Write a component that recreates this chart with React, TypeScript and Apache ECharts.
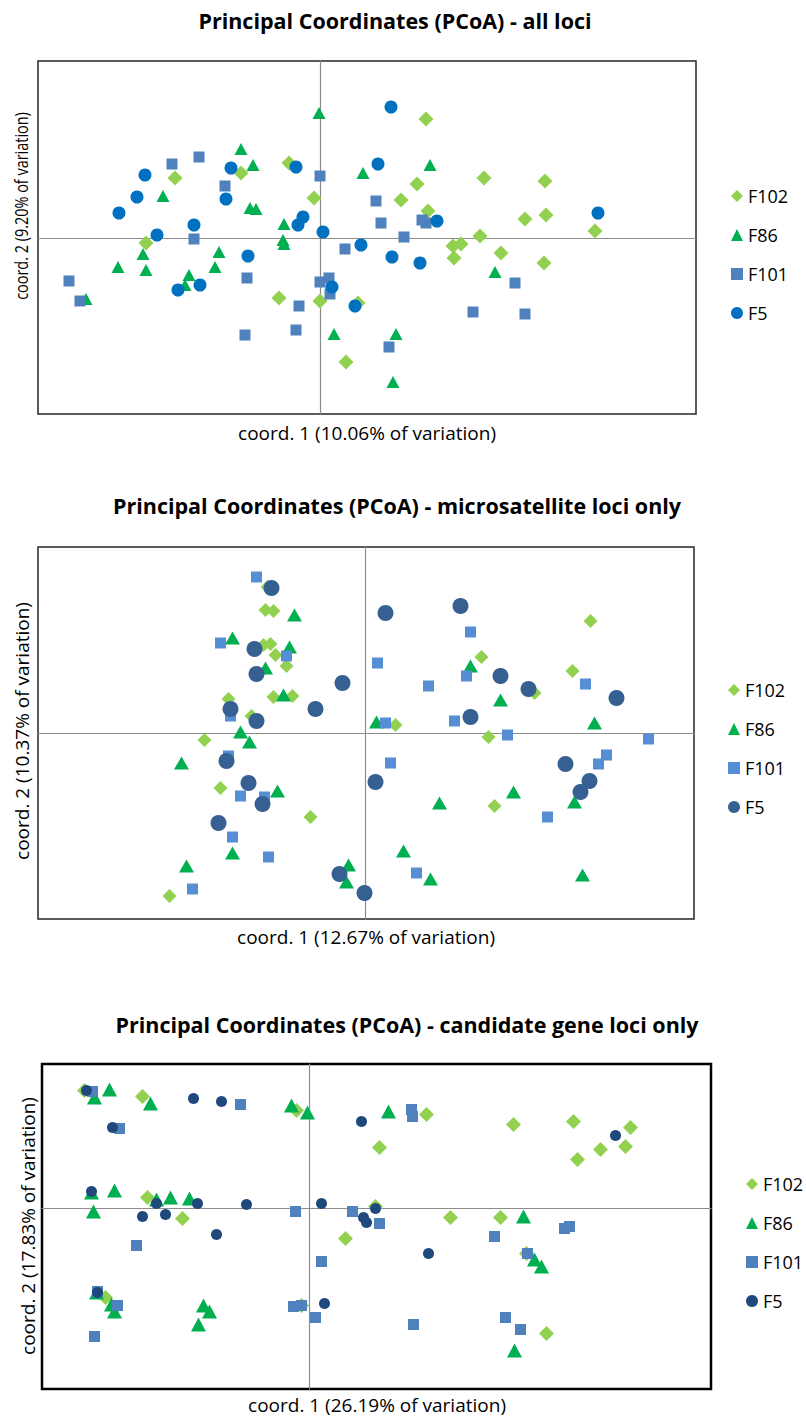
import React, { useEffect, useRef } from "react";
import * as echarts from "echarts";

const FONT = "'Open Sans', Lato, sans-serif";

const groupNames = ["F102", "F86", "F101", "F5"];
const symbols = ["diamond", "triangle", "rect", "circle"];

// ---------- Panel 1: all loci ----------
const p1Title = "Principal Coordinates (PCoA) - all loci";
const p1XName = "coord. 1 (10.06% of variation)";
const p1YName = "coord. 2 (9.20% of variation)";
const p1F102 = [
  [-1.45, 0.6], [-0.79, 0.65], [-0.31, 0.75], [-0.06, 0.4], [-1.74, -0.05], [-0.41, -0.6],
  [0.0, -0.63], [0.38, -0.65], [0.26, -1.24], [1.06, 1.19], [0.97, 0.54], [0.81, 0.38],
  [1.08, 0.27], [1.64, 0.6], [2.25, 0.57], [2.26, 0.23], [2.05, 0.19], [2.75, 0.07],
  [1.6, 0.02], [1.33, -0.08], [1.41, -0.06], [1.34, -0.2], [1.81, -0.15], [2.24, -0.25],
];
const p1F86 = [
  [-0.01, 1.25], [-0.79, 0.89], [-0.67, 0.73], [0.43, 0.65], [-1.57, 0.42], [-0.7, 0.3],
  [-0.64, 0.29], [-0.36, 0.14], [-0.37, -0.02], [-0.36, -0.06], [-1.77, -0.16], [-1.01, -0.14],
  [-2.02, -0.29], [-1.74, -0.32], [-1.05, -0.29], [-1.31, -0.37], [-1.35, -0.47], [-2.34, -0.61],
  [0.14, -0.96], [1.1, 0.73], [1.75, -0.34], [0.76, -0.96], [0.73, -1.44],
];
const p1F101 = [
  [-1.48, 0.74], [-1.21, 0.81], [-0.95, 0.52], [0.0, 0.62], [-1.26, -0.01], [0.25, -0.11],
  [-2.51, -0.43], [-2.4, -0.63], [-0.73, -0.4], [0.0, -0.44], [0.09, -0.4], [0.1, -0.56],
  [-0.21, -0.68], [-0.75, -0.97], [-0.24, -0.92], [0.56, 0.37], [0.61, 0.15], [1.02, 0.18],
  [1.06, 0.15], [0.84, 0.01], [1.95, -0.45], [1.53, -0.74], [2.05, -0.76], [0.69, -1.09],
];
const p1F5 = [
  [-1.75, 0.63], [-1.83, 0.41], [-2.01, 0.25], [-0.89, 0.7], [-0.24, 0.71], [-0.94, 0.39],
  [-0.17, 0.21], [-0.22, 0.13], [-1.26, 0.13], [-1.63, 0.03], [0.03, 0.06], [0.41, -0.07],
  [-0.72, -0.18], [-1.42, -0.52], [-1.2, -0.47], [0.12, -0.49], [0.35, -0.68], [0.71, 1.31],
  [0.58, 0.74], [1.17, 0.17], [2.78, 0.25], [0.72, -0.19], [1.0, -0.25],
];

// ---------- Panel 2: microsatellite loci only ----------
const p2Title = "Principal Coordinates (PCoA) - microsatellite loci only";
const p2XName = "coord. 1 (12.67% of variation)";
const p2YName = "coord. 2 (10.37% of variation)";
const p2F102 = [
  [-0.98, 1.46], [-1.0, 1.23], [-0.92, 1.22], [-1.02, 0.88], [-0.95, 0.89], [-0.9, 0.78],
  [-0.79, 0.67], [-0.92, 0.36], [-0.73, 0.37], [-1.37, 0.34], [-1.14, 0.17], [-1.61, -0.07],
  [-1.45, -0.55], [-0.55, -0.84], [-1.96, -1.63], [2.25, 1.12], [1.16, 0.76], [2.07, 0.62],
  [1.69, 0.4], [0.3, 0.08], [1.23, -0.04], [1.29, -0.73],
];
const p2F86 = [
  [-0.71, 1.18], [-1.33, 0.95], [-0.76, 0.86], [-1.0, 0.65], [-0.82, 0.38], [-1.25, 0.01],
  [-1.16, -0.09], [-1.84, -0.3], [-0.88, -0.58], [-1.33, -1.2], [-1.79, -1.33], [-0.17, -1.32],
  [-0.19, -1.49], [1.05, 0.67], [1.35, 0.33], [0.11, 0.11], [2.29, 0.1], [1.48, -0.59],
  [0.74, -0.7], [2.09, -0.69], [0.38, -1.18], [0.65, -1.46], [2.17, -1.42],
];
const p2F101 = [
  [-1.09, 1.56], [-1.45, 0.9], [-0.79, 0.77], [-1.35, 0.17], [-1.37, -0.23], [-1.25, -0.63],
  [-1.01, -0.64], [-1.33, -1.04], [-0.97, -1.24], [-1.73, -1.56], [1.05, 1.01], [0.12, 0.7],
  [1.01, 0.57], [0.63, 0.47], [2.2, 0.49], [0.89, 0.12], [0.2, 0.1], [1.42, -0.02],
  [2.83, -0.06], [2.41, -0.22], [2.33, -0.31], [0.25, -0.3], [1.82, -0.84], [0.51, -1.4],
];
const p2F5 = [
  [-0.94, 1.45], [-1.11, 0.84], [-1.09, 0.59], [-0.23, 0.5], [-1.35, 0.24], [-0.5, 0.24],
  [-1.09, 0.12], [-1.39, -0.28], [-1.17, -0.5], [-1.03, -0.71], [-1.47, -0.9], [-0.26, -1.41],
  [-0.01, -1.6], [0.2, 1.2], [0.95, 1.27], [1.35, 0.57], [1.63, 0.44], [2.51, 0.35],
  [1.05, 0.16], [0.1, -0.49], [2.0, -0.31], [2.24, -0.48], [2.15, -0.59],
];

// ---------- Panel 3: candidate gene loci only ----------
const p3Title = "Principal Coordinates (PCoA) - candidate gene loci only";
const p3XName = "coord. 1 (26.19% of variation)";
const p3YName = "coord. 2 (17.83% of variation)";
const p3F102 = [
  [-2.25, 1.18], [-1.67, 1.12], [-0.13, 0.98], [-1.62, 0.11], [-1.27, -0.1], [0.36, -0.3],
  [-2.04, -0.89], [-0.08, -0.97], [1.17, 0.94], [0.7, 0.61], [2.04, 0.84], [2.64, 0.87],
  [3.21, 0.81], [2.91, 0.59], [3.16, 0.62], [2.68, 0.49], [0.66, 0.02], [1.41, -0.09],
  [1.91, -0.09], [2.17, -0.45], [2.37, -1.25],
];
const p3F86 = [
  [-2.0, 1.19], [-2.15, 1.11], [-1.59, 1.05], [-0.18, 1.03], [-0.02, 0.96], [-2.18, 0.16],
  [-1.95, 0.18], [-2.16, -0.03], [-1.53, 0.09], [-1.39, 0.11], [-1.2, 0.1], [-2.13, -0.84],
  [-1.98, -0.96], [-1.95, -1.03], [-1.06, -0.97], [-1.0, -1.03], [-1.11, -1.16], [0.79, 0.97],
  [2.14, -0.08], [2.25, -0.51], [2.32, -0.58], [2.05, -1.42],
];
const p3F101 = [
  [-2.17, 1.17], [-0.69, 1.04], [-1.9, 0.8], [-0.14, -0.03], [0.43, -0.03], [-1.73, -0.37],
  [0.12, -0.53], [-2.12, -0.83], [-1.92, -0.97], [-0.16, -0.98], [-0.08, -0.97], [0.06, -1.09],
  [-2.15, -1.28], [1.02, 0.99], [1.03, 0.92], [0.7, -0.15], [1.85, -0.28], [2.55, -0.2],
  [2.6, -0.18], [2.18, -0.45], [1.04, -1.16], [1.96, -1.09], [2.11, -1.21],
];
const p3F5 = [
  [-2.23, 1.18], [-1.16, 1.1], [-0.88, 1.07], [-1.97, 0.81], [0.52, 0.87], [-2.18, 0.17],
  [-1.53, 0.05], [-1.12, 0.05], [-0.63, 0.04], [0.12, 0.05], [-1.67, -0.08], [-1.44, -0.06],
  [0.54, -0.09], [0.57, -0.14], [-0.93, -0.26], [-2.12, -0.84], [0.15, -0.95], [3.06, 0.73],
  [0.66, 0.0], [1.19, -0.45],
];

// axis ranges
const p1XRange = [-2.82, 3.76];
const p1YRange = [-1.76, 1.77];
const p2XRange = [-3.275, 3.285];
const p2YRange = [-1.86, 1.86];
const p3XRange = [-2.675, 4.015];
const p3YRange = [-1.805, 1.445];

const panels = [
  {
    title: p1Title, xName: p1XName, yName: p1YName,
    data: [p1F102, p1F86, p1F101, p1F5], xr: p1XRange, yr: p1YRange,
    grid: { left: 38, top: 61, width: 658, height: 353 },
    border: { color: "#262626", width: 1.5 },
    colors: ["#92D050", "#00B050", "#4F81BD", "#0070C0"],
    sizes: [15, [13, 12], 11, 13],
    titleXY: [395, 20], xNameXY: [367, 433], yNameXY: [21, 206], yScale: 0.76,
    legend: { left: 726, top: 182 },
  },
  {
    title: p2Title, xName: p2XName, yName: p2YName,
    data: [p2F102, p2F86, p2F101, p2F5], xr: p2XRange, yr: p2YRange,
    grid: { left: 38, top: 547, width: 656, height: 372 },
    border: { color: "#262626", width: 1.5 },
    colors: ["#92D050", "#00B050", "#558ED5", "#376092"],
    sizes: [14, [15, 13], 11, 16],
    titleXY: [397, 505], xNameXY: [366, 937], yNameXY: [22, 731], yScale: 1,
    legend: { left: 723, top: 676 },
  },
  {
    title: p3Title, xName: p3XName, yName: p3YName,
    data: [p3F102, p3F86, p3F101, p3F5], xr: p3XRange, yr: p3YRange,
    grid: { left: 42, top: 1064, width: 669, height: 325 },
    border: { color: "#000000", width: 2.5 },
    colors: ["#92D050", "#00B050", "#4F81BD", "#1F497D"],
    sizes: [15, [15, 14], 11, 11],
    titleXY: [407, 1024], xNameXY: [377, 1405], yNameXY: [28, 1226], yScale: 1,
    legend: { left: 741, top: 1170 },
  },
];

function buildOption() {
  const grid: any[] = [];
  const xAxis: any[] = [];
  const yAxis: any[] = [];
  const series: any[] = [];
  const legend: any[] = [];
  const graphic: any[] = [];

  panels.forEach((p, i) => {
    grid.push({
      ...p.grid,
      show: true,
      borderColor: p.border.color,
      borderWidth: p.border.width,
      backgroundColor: "#fff",
      containLabel: false,
    });
    const axisCommon = {
      type: "value",
      gridIndex: i,
      axisLine: { show: true, onZero: true, lineStyle: { color: "#8C8C8C", width: 1.2 } },
      axisTick: { show: false },
      axisLabel: { show: false },
      splitLine: { show: false },
    };
    xAxis.push({ ...axisCommon, min: p.xr[0], max: p.xr[1] });
    yAxis.push({ ...axisCommon, min: p.yr[0], max: p.yr[1] });

    const names: string[] = [];
    groupNames.forEach((g, k) => {
      const name = `${i + 1}|${g}`;
      names.push(name);
      series.push({
        type: "scatter",
        name,
        xAxisIndex: i,
        yAxisIndex: i,
        data: p.data[k],
        symbol: symbols[k],
        symbolSize: p.sizes[k],
        itemStyle: { color: p.colors[k], opacity: 1 },
        emphasis: { disabled: true },
        z: 2 + k,
      });
    });
    legend.push({
      orient: "vertical",
      left: p.legend.left,
      top: p.legend.top,
      data: names,
      formatter: (n: string) => n.split("|")[1],
      itemWidth: 12,
      itemHeight: 12,
      itemGap: 21,
      selectedMode: false,
      textStyle: { fontSize: 18, fontFamily: FONT, color: "#000", lineHeight: 18 },
    });

    graphic.push({
      type: "text",
      x: p.titleXY[0],
      y: p.titleXY[1],
      style: {
        text: p.title,
        fill: "#000",
        font: `bold 21.5px ${FONT}`,
        align: "center",
        verticalAlign: "middle",
      },
    });
    graphic.push({
      type: "text",
      x: p.xNameXY[0],
      y: p.xNameXY[1],
      style: {
        text: p.xName,
        fill: "#000",
        font: `19px ${FONT}`,
        align: "center",
        verticalAlign: "middle",
      },
    });
    graphic.push({
      type: "text",
      x: p.yNameXY[0],
      y: p.yNameXY[1],
      rotation: Math.PI / 2,
      scaleX: p.yScale,
      style: {
        text: p.yName,
        fill: "#000",
        font: `19px ${FONT}`,
        align: "center",
        verticalAlign: "middle",
      },
    });
  });

  return {
    animation: false,
    backgroundColor: "#ffffff",
    grid,
    xAxis,
    yAxis,
    series,
    legend,
    graphic,
  };
}

export default function App() {
  const ref = useRef<HTMLDivElement>(null);
  useEffect(() => {
    if (!ref.current) return;
    const chart = echarts.init(ref.current, undefined, { renderer: "svg" });
    chart.setOption(buildOption() as any);
    return () => chart.dispose();
  }, []);
  return (
    <div
      ref={ref}
      style={{ position: "absolute", left: 0, top: 0, width: 806, height: 1417 }}
    />
  );
}
